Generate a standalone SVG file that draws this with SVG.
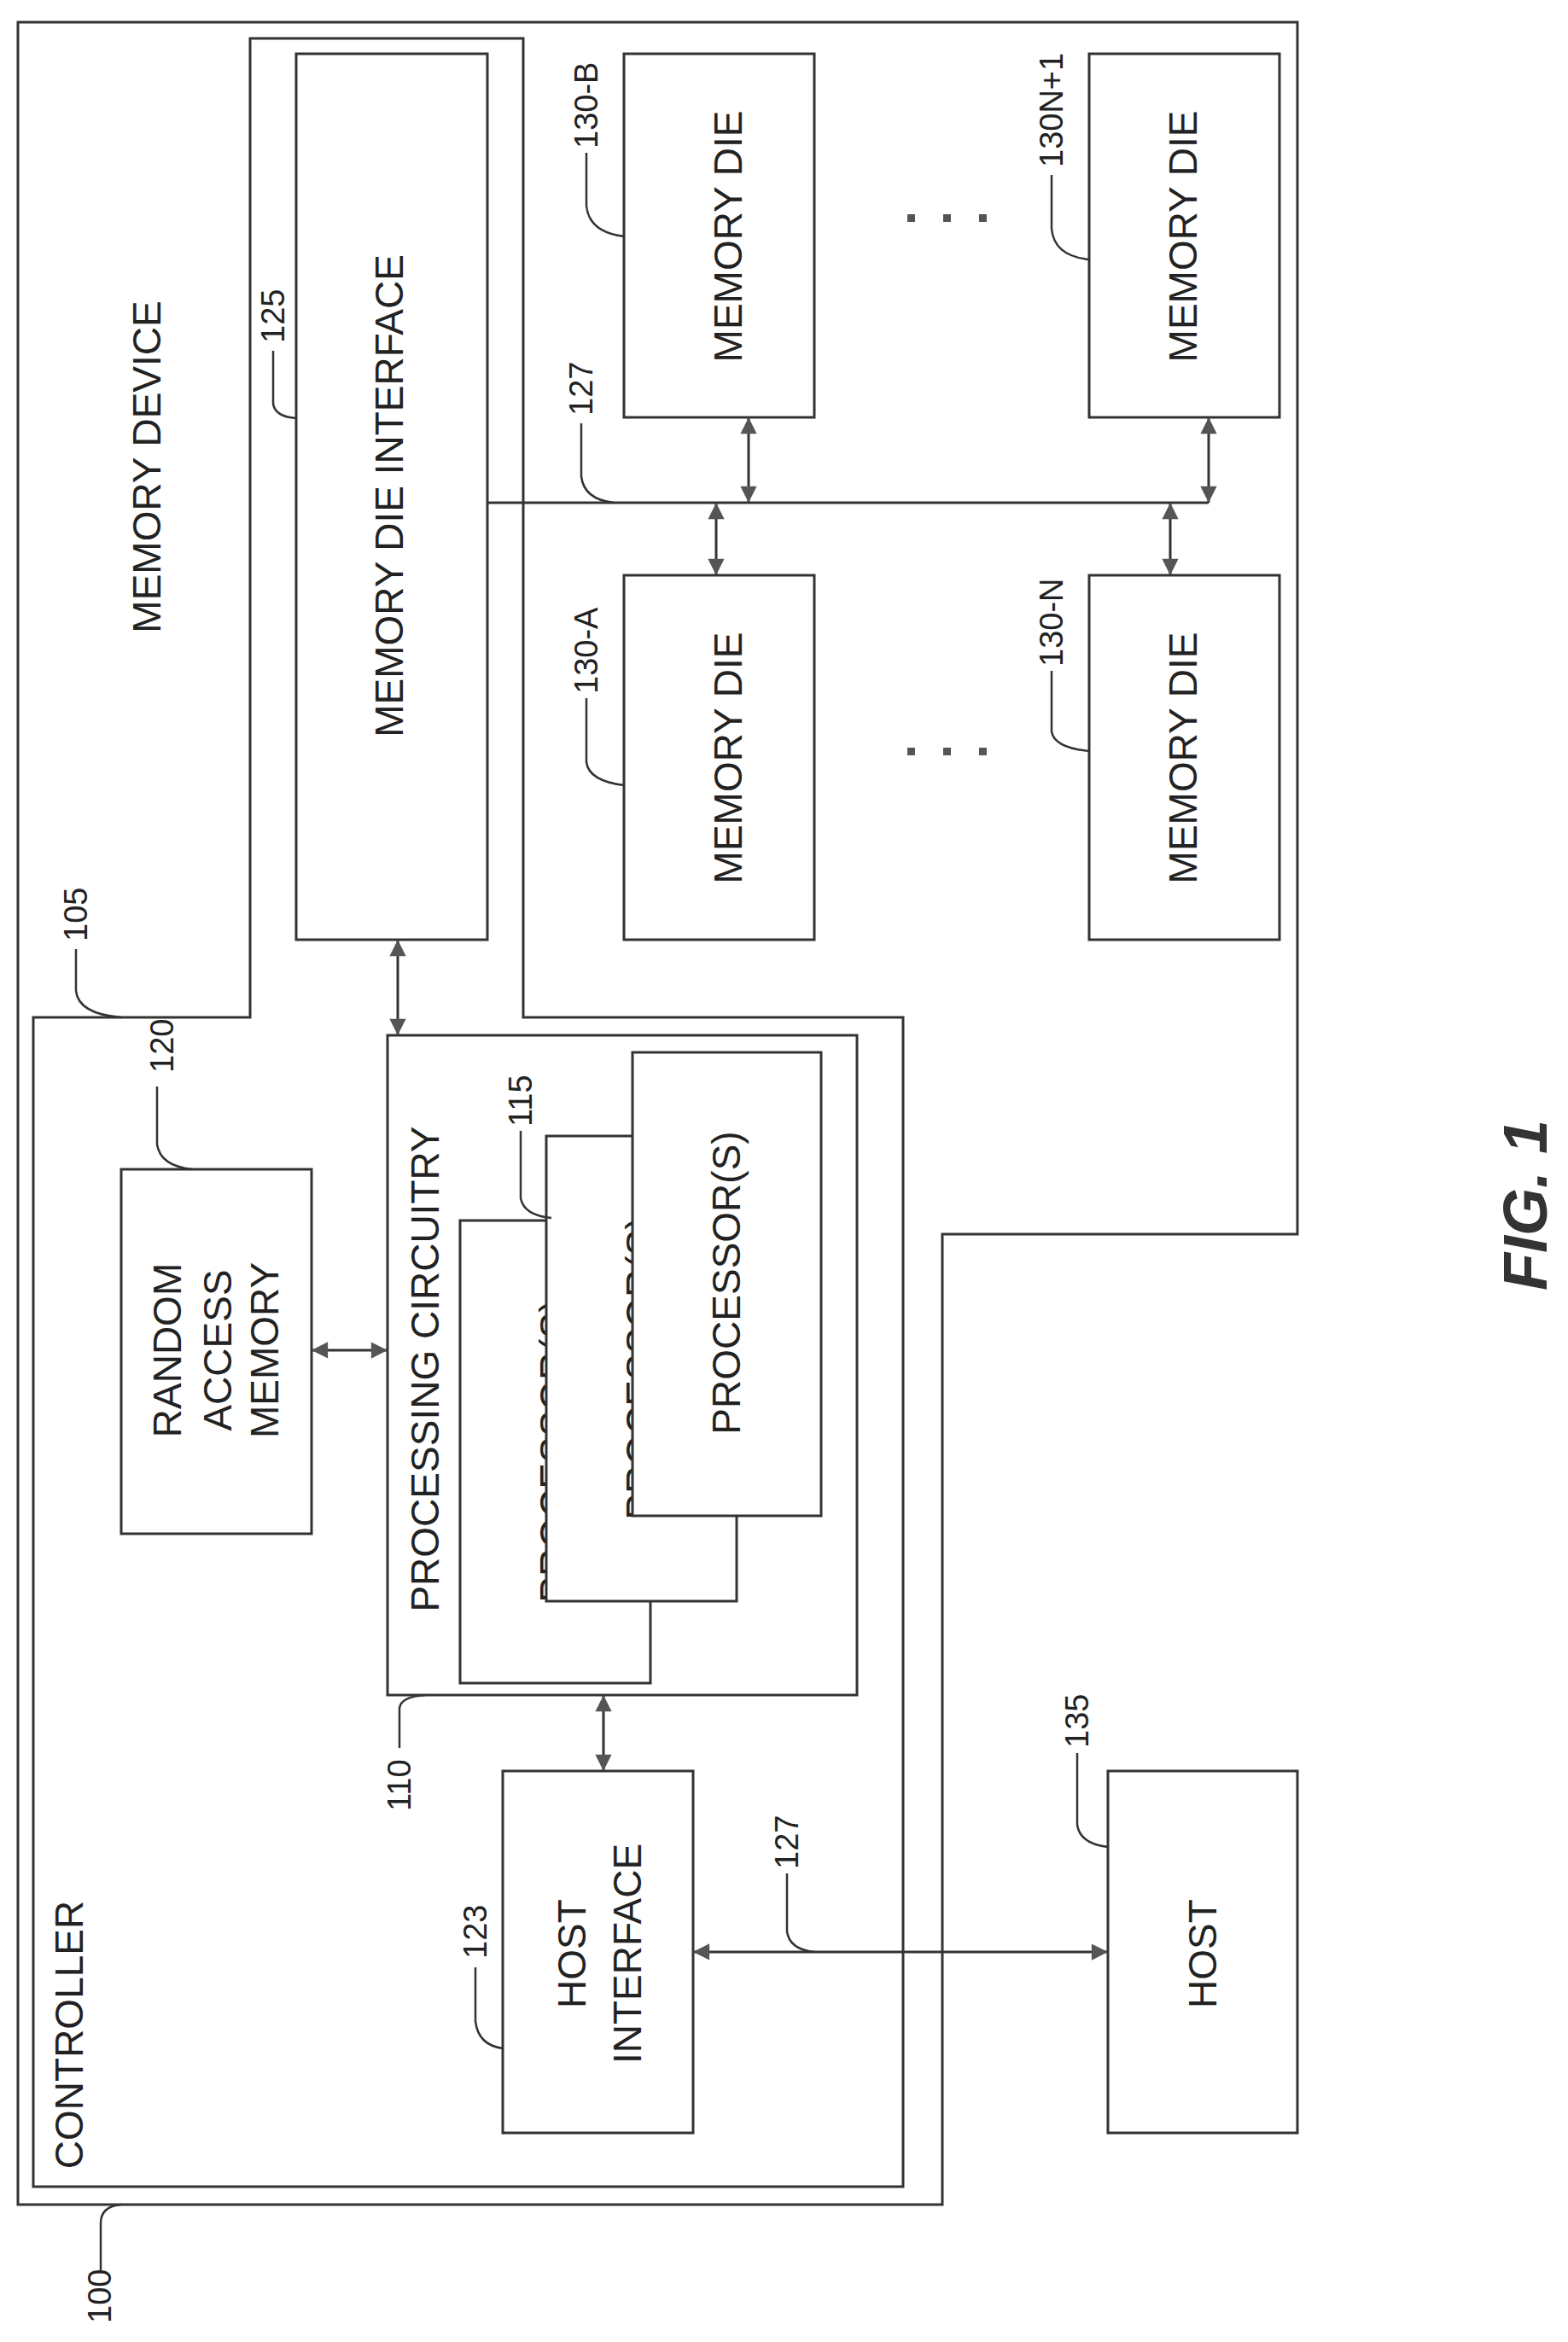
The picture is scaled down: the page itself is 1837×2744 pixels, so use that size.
<svg xmlns="http://www.w3.org/2000/svg" width="1837" height="2744" viewBox="0 0 1837 2744">
<style>
.b{fill:#fff;stroke:#333;stroke-width:3}
.n{fill:none;stroke:#333;stroke-width:3}
.l{fill:none;stroke:#333;stroke-width:2.5}
.t{font-family:"Liberation Sans",Arial,sans-serif;font-size:46px;fill:#222;text-anchor:middle}
.r{font-family:"Liberation Sans",Arial,sans-serif;font-size:38px;fill:#222;text-anchor:start}
</style>
<defs>
<marker id="a" viewBox="0 0 10 10" refX="10" refY="5" markerWidth="8" markerHeight="8" markerUnits="userSpaceOnUse" orient="auto-start-reverse" style="overflow:visible">
<path d="M0,0 L10,5 L0,10 z" fill="#555" transform="scale(2.4) translate(-5.8,-2.9)"/>
</marker>
</defs>
<rect width="1837" height="2744" fill="#fff"/>
<g id="n100"><path class="n" d="M21,26 H1520 V1446 H1104 V2583 H21 Z"/>
<text class="r" transform="translate(130,2722) rotate(-90)">100</text>
<path class="l" d="M118,2660 V2605 Q118,2585 142,2583"/></g>
<g id="n105"><path class="n" d="M293,45 H613 V1192 H1058 V2562 H39 V1192 H293 Z"/>
<text class="t" transform="translate(188,547) rotate(-90)">MEMORY DEVICE</text>
<text class="t" transform="translate(97,2384) rotate(-90)">CONTROLLER</text>
<text class="r" transform="translate(102,1103) rotate(-90)">105</text>
<path class="l" d="M89,1112 V1161 Q92,1188 142,1192"/></g>
<g id="n125"><rect class="b" x="347" y="63" width="224" height="1038"/>
<text class="t" transform="translate(472,581) rotate(-90)">MEMORY DIE INTERFACE</text>
<text class="r" transform="translate(333,402) rotate(-90)">125</text>
<path class="l" d="M320,411 V473 Q322,488 347,490"/></g>
<g id="n130B"><rect class="b" x="731" y="63" width="223" height="426"/>
<text class="t" transform="translate(869,277) rotate(-90)">MEMORY DIE</text>
<text class="r" transform="translate(700,174) rotate(-90)">130-B</text>
<path class="l" d="M687,179 V241 Q690,272 731,277"/></g>
<g id="n130A"><rect class="b" x="731" y="674" width="223" height="427"/>
<text class="t" transform="translate(869,888) rotate(-90)">MEMORY DIE</text>
<text class="r" transform="translate(700,813) rotate(-90)">130-A</text>
<path class="l" d="M687,818 V893 Q690,915 731,920"/></g>
<g id="n130N1"><rect class="b" x="1276" y="63" width="223" height="426"/>
<text class="t" transform="translate(1402,277) rotate(-90)">MEMORY DIE</text>
<text class="r" transform="translate(1245,196) rotate(-90)">130N+1</text>
<path class="l" d="M1232,205 V268 Q1235,300 1276,304"/></g>
<g id="n130N"><rect class="b" x="1276" y="674" width="223" height="427"/>
<text class="t" transform="translate(1402,888) rotate(-90)">MEMORY DIE</text>
<text class="r" transform="translate(1245,781) rotate(-90)">130-N</text>
<path class="l" d="M1232,786 V857 Q1235,876 1276,880"/></g>
<g id="dots" fill="#555">
<rect x="1063" y="251" width="9" height="9"/><rect x="1105" y="251" width="9" height="9"/><rect x="1147" y="251" width="9" height="9"/>
<rect x="1063" y="876" width="9" height="9"/><rect x="1105" y="876" width="9" height="9"/><rect x="1147" y="876" width="9" height="9"/>
</g>
<g id="n120"><rect class="b" x="142" y="1370" width="223" height="427"/>
<text class="t" transform="translate(212,1582) rotate(-90)">RANDOM</text>
<text class="t" transform="translate(271,1582) rotate(-90)">ACCESS</text>
<text class="t" transform="translate(326,1582) rotate(-90)">MEMORY</text>
<text class="r" transform="translate(203,1257) rotate(-90)">120</text>
<path class="l" d="M184,1273 V1341 Q188,1366 225,1370"/></g>
<g id="n110"><rect class="b" x="454" y="1213" width="550" height="773"/>
<text class="t" transform="translate(514,1604) rotate(-90)">PROCESSING CIRCUITRY</text>
<text class="r" transform="translate(481,2122) rotate(-90)">110</text>
<path class="l" d="M468,2048 V2001 Q470,1988 498,1986"/></g>
<g id="n115">
<rect class="b" x="539" y="1430" width="223" height="542"/>
<text class="t" transform="translate(665,1700) rotate(-90)">PROCESSOR(S)</text>
<rect class="b" x="640" y="1331" width="223" height="545"/>
<text class="t" transform="translate(766,1603) rotate(-90)">PROCESSOR(S)</text>
<rect class="b" x="741" y="1233" width="221" height="543"/>
<text class="t" transform="translate(867,1503) rotate(-90)">PROCESSOR(S)</text>
<text class="r" transform="translate(623,1320) rotate(-90)">115</text>
<path class="l" d="M610,1325 V1404 Q614,1424 646,1427"/></g>
<g id="n123"><rect class="b" x="589" y="2075" width="223" height="424"/>
<text class="t" transform="translate(686,2289) rotate(-90)">HOST</text>
<text class="t" transform="translate(751,2289) rotate(-90)">INTERFACE</text>
<text class="r" transform="translate(570,2295) rotate(-90)">123</text>
<path class="l" d="M557,2305 V2368 Q560,2396 589,2400"/></g>
<g id="n135"><rect class="b" x="1298" y="2075" width="222" height="424"/>
<text class="t" transform="translate(1425,2289) rotate(-90)">HOST</text>
<text class="r" transform="translate(1275,2048) rotate(-90)">135</text>
<path class="l" d="M1262,2054 V2138 Q1265,2160 1298,2164"/></g>
<g id="connectors">
<path class="n" d="M571,589 H1416"/>
<line class="n" x1="877" y1="589" x2="877" y2="489" marker-start="url(#a)" marker-end="url(#a)"/>
<line class="n" x1="839" y1="589" x2="839" y2="674" marker-start="url(#a)" marker-end="url(#a)"/>
<line class="n" x1="1416" y1="589" x2="1416" y2="489" marker-start="url(#a)" marker-end="url(#a)"/>
<line class="n" x1="1371" y1="589" x2="1371" y2="674" marker-start="url(#a)" marker-end="url(#a)"/>
<line class="n" x1="466" y1="1101" x2="466" y2="1213" marker-start="url(#a)" marker-end="url(#a)"/>
<line class="n" x1="365" y1="1582" x2="454" y2="1582" marker-start="url(#a)" marker-end="url(#a)"/>
<line class="n" x1="707" y1="1986" x2="707" y2="2075" marker-start="url(#a)" marker-end="url(#a)"/>
<line class="n" x1="812" y1="2287" x2="1298" y2="2287" marker-start="url(#a)" marker-end="url(#a)"/>
<text class="r" transform="translate(935,2190) rotate(-90)">127</text>
<text class="r" transform="translate(694,487) rotate(-90)">127</text>
<path class="l" d="M681,496 V558 Q684,585 719,589"/>
<path class="l" d="M922,2195 V2263 Q925,2284 954,2287"/>
</g>
<text transform="translate(1812,1412) rotate(-90)" style="font-family:'Liberation Sans',Arial,sans-serif;font-size:72px;font-weight:bold;font-style:italic;fill:#333;text-anchor:middle">FIG. 1</text>
</svg>
